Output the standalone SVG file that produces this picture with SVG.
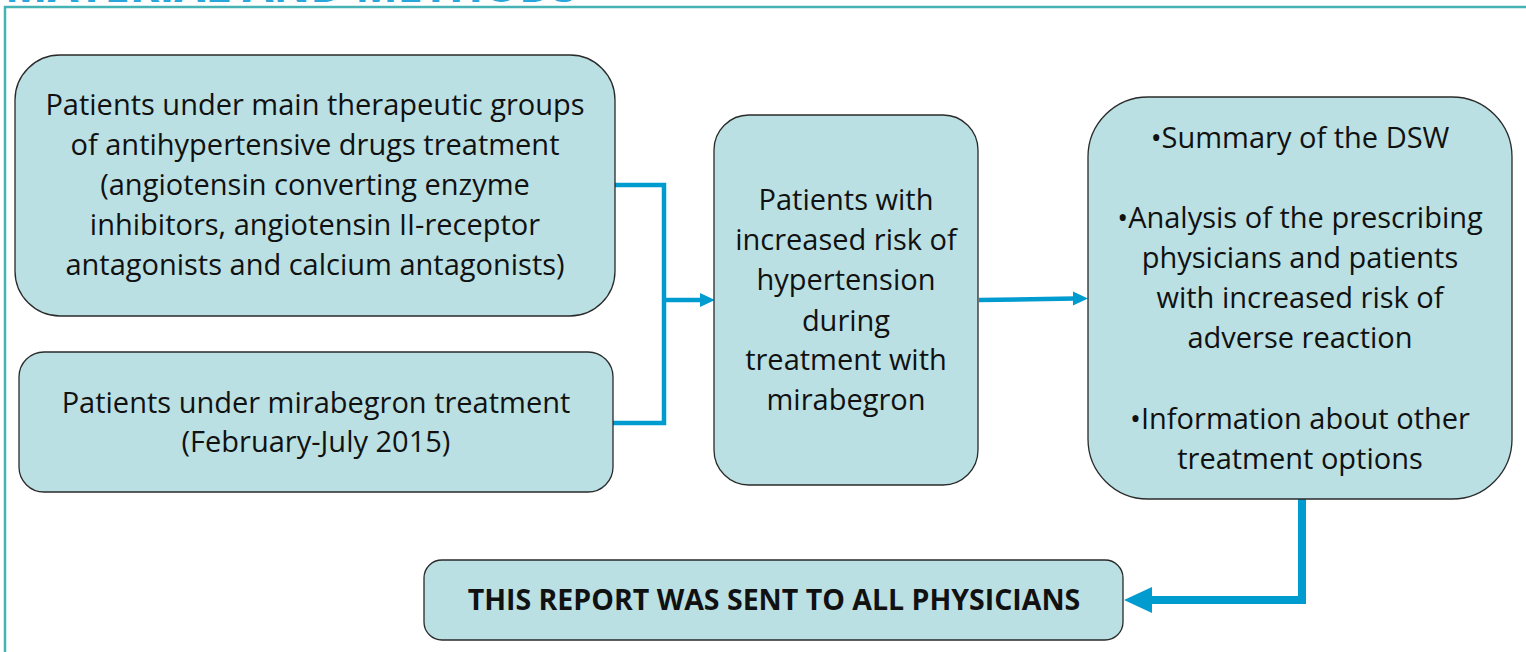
<svg xmlns="http://www.w3.org/2000/svg" width="1526" height="652" viewBox="0 0 1526 652">
<defs>
<style>
.box{fill:#bae0e3;stroke:#2a2a2a;stroke-width:1.3}
.t{font-family:"Open Sans","Liberation Sans",sans-serif;font-size:29px;fill:#111;text-anchor:middle}
.b{font-weight:bold;font-size:28.5px}
.c{fill:none;stroke:#009bcf;stroke-width:4.5}
.ah{fill:#009bcf}
</style>
</defs>
<rect width="1526" height="652" fill="#fff"/>
<g id="title">
<text x="5" y="1.5" font-family="'Open Sans','Liberation Sans',sans-serif" font-weight="bold" font-size="45" fill="#29a7dc">MATERIAL AND METHODS</text>
<path d="M5,652 V7 H1526" fill="none" stroke="#45b3b3" stroke-width="2.5"/>
</g>
<g id="connectors">
<path class="c" d="M615,185 H664 V423 H613"/>
<path class="c" d="M664,300 H702"/>
<polygon class="ah" points="700,293 715,300 700,307"/>
<path class="c" d="M979,300 L1075,298.5"/>
<polygon class="ah" points="1073,291.5 1088,298.5 1073,305.5"/>
<path class="c" d="M1302,499 V600 H1150" style="stroke-width:8"/>
<polygon class="ah" points="1152,587 1124,600 1152,613"/>
</g>
<g id="n1">
<rect class="box" x="15" y="55" width="600" height="261" rx="45"/>
<text class="t" x="315" y="115">Patients under main therapeutic groups</text>
<text class="t" x="315" y="155">of antihypertensive drugs treatment</text>
<text class="t" x="315" y="195">(angiotensin converting enzyme</text>
<text class="t" x="315" y="235">inhibitors, angiotensin II-receptor</text>
<text class="t" x="315" y="275">antagonists and calcium antagonists)</text>
</g>
<g id="n2">
<rect class="box" x="19" y="352" width="594" height="140" rx="25"/>
<text class="t" x="316" y="413">Patients under mirabegron treatment</text>
<text class="t" x="316" y="452">(February-July 2015)</text>
</g>
<g id="n3">
<rect class="box" x="714" y="115" width="264" height="370" rx="35"/>
<text class="t" x="846" y="210">Patients with</text>
<text class="t" x="846" y="250">increased risk of</text>
<text class="t" x="846" y="290">hypertension</text>
<text class="t" x="846" y="331">during</text>
<text class="t" x="846" y="370">treatment with</text>
<text class="t" x="846" y="410">mirabegron</text>
</g>
<g id="n4">
<rect class="box" x="1088" y="97" width="424" height="402" rx="60"/>
<text class="t" x="1300" y="148">•Summary of the DSW</text>
<text class="t" x="1300" y="228">•Analysis of the prescribing</text>
<text class="t" x="1300" y="268">physicians and patients</text>
<text class="t" x="1300" y="308">with increased risk of</text>
<text class="t" x="1300" y="348">adverse reaction</text>
<text class="t" x="1300" y="429">•Information about other</text>
<text class="t" x="1300" y="469">treatment options</text>
</g>
<g id="n5">
<rect class="box" x="424" y="560" width="699" height="80" rx="18"/>
<text class="t b" x="774" y="610">THIS REPORT WAS SENT TO ALL PHYSICIANS</text>
</g>
</svg>
